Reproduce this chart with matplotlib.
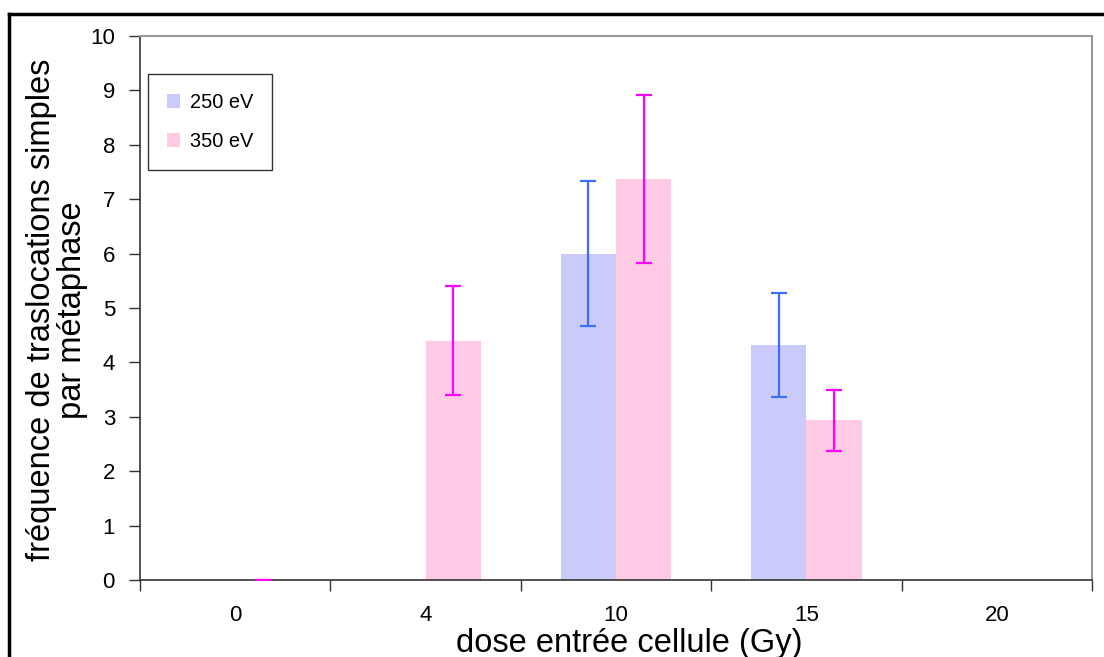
import numpy as np
import matplotlib.pyplot as plt
from matplotlib.lines import Line2D

plt.rcParams['font.family'] = ['Liberation Sans', 'DejaVu Sans']

doses = ['0', '4', '10', '15', '20']
freq_250 = [0, 0, 6.0, 4.32, 0]
err_250 = [np.nan, np.nan, 1.34, 0.96, np.nan]
freq_350 = [0, 4.4, 7.37, 2.94, 0]
err_350 = [0, 1.0, 1.54, 0.56, np.nan]

fig = plt.figure(figsize=(11.04, 6.57), dpi=100)
ax = fig.add_axes([0.1268, 0.1172, 0.8623, 0.8280])

x = np.arange(len(doses))
w = 0.29
ax.bar(x - w/2, freq_250, width=w, color='#cbcbfb', label='250 eV', zorder=2)
ax.bar(x + w/2, freq_350, width=w, color='#ffcbe4', label='350 eV', zorder=2)
ax.errorbar(x - w/2, freq_250, yerr=err_250, fmt='none', ecolor='#3f6ff5',
            elinewidth=1.6, capsize=5.8, capthick=1.6, zorder=3)
ax.errorbar(x + w/2, freq_350, yerr=err_350, fmt='none', ecolor='#ff00ff',
            elinewidth=1.6, capsize=5.8, capthick=1.6, zorder=3)

ax.set_xlim(-0.5, 4.5)
ax.set_ylim(0, 10)
ax.set_yticks(range(0, 11))
ax.set_xticks(x)
ax.set_xticklabels(doses)
ax.set_xticks(np.arange(-0.5, 5, 1), minor=True)
ax.tick_params(axis='x', which='major', length=0, pad=18, labelsize=16)
ax.tick_params(axis='x', which='minor', length=8, width=1, color='#333333')
ax.tick_params(axis='y', length=8, width=1, color='#333333', labelsize=16, pad=10)

for s in ['top', 'right']:
    ax.spines[s].set_color('#999999')
    ax.spines[s].set_linewidth(1.5)
for s in ['left', 'bottom']:
    ax.spines[s].set_color('#333333')
    ax.spines[s].set_linewidth(1.2)

ax.set_xlabel('dose entrée cellule (Gy)', fontsize=23.5, va='center')
ax.xaxis.set_label_coords(0.514, -0.116)
ax.set_ylabel('fréquence de traslocations simples\npar métaphase', fontsize=23.5,
              va='center', linespacing=1.0)
ax.yaxis.set_label_coords(-0.0875, 0.496)

leg = ax.legend(loc='upper left', bbox_to_anchor=(0.0084, 0.930), fontsize=14.4,
                frameon=True, fancybox=False, handlelength=0.65, handleheight=0.65,
                labelspacing=1.0, borderpad=0.95, handletextpad=0.5,
                borderaxespad=0)
leg.get_frame().set_edgecolor('black')
leg.get_frame().set_linewidth(1.0)

# outer frame of the figure (cut at bottom and right)
fig.add_artist(Line2D([0.008, 1.0], [0.979, 0.979], color='black', lw=2.5,
                      transform=fig.transFigure))
fig.add_artist(Line2D([0.008, 0.008], [0.0, 0.979], color='black', lw=2.5,
                      transform=fig.transFigure))

fig.savefig('out.png', dpi=100)
